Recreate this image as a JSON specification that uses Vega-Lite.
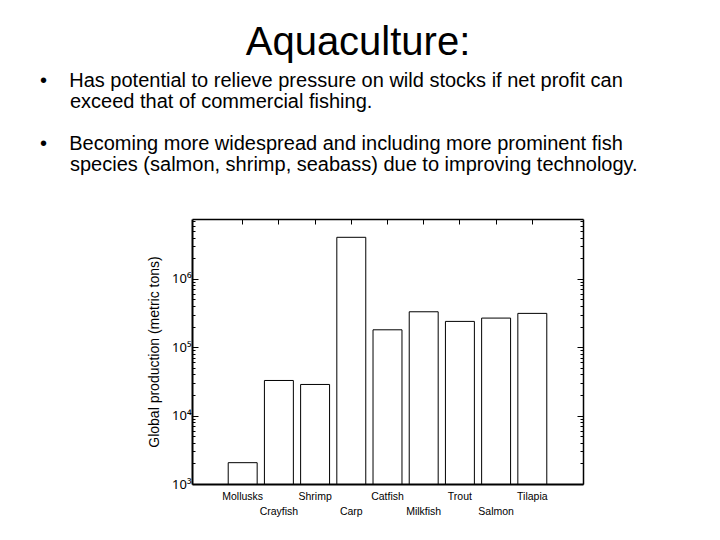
{
  "$schema": "https://vega.github.io/schema/vega-lite/v6.json",
  "background": "white",
  "padding": {"left": 40, "top": 23, "right": 5, "bottom": 5},
  "title": {
    "text": "Aquaculture:",
    "font": "Liberation Sans",
    "fontSize": 40,
    "fontWeight": "normal",
    "color": "black",
    "anchor": "middle",
    "frame": "group",
    "dx": -29.5,
    "offset": 8
  },
  "vconcat": [
    {
      "width": 391,
      "height": 265,
      "title": {
        "text": [
          "•\u00a0\u00a0\u00a0\u00a0Has potential to relieve pressure on wild stocks if net profit can",
          "\u200b\u2002\u2002\u2002exceed that of commercial fishing.",
          "\u200b",
          "•\u00a0\u00a0\u00a0\u00a0Becoming more widespread and including more prominent fish",
          "\u200b\u2002\u2002\u2002species (salmon, shrimp, seabass) due to improving technology."
        ],
        "font": "Liberation Sans",
        "fontSize": 20,
        "fontWeight": "normal",
        "color": "black",
        "lineHeight": 21.1,
        "anchor": "start",
        "frame": "group",
        "align": "left",
        "dx": -152,
        "offset": 39.6
      },
      "data": {
        "values": [
          {"species": "Mollusks", "production": 2050},
          {"species": "Crayfish", "production": 32650},
          {"species": "Shrimp", "production": 28550},
          {"species": "Carp", "production": 4050000},
          {"species": "Catfish", "production": 179800},
          {"species": "Milkfish", "production": 330000},
          {"species": "Trout", "production": 238600},
          {"species": "Salmon", "production": 266800},
          {"species": "Tilapia", "production": 312500}
        ]
      },
      "encoding": {
        "x": {
          "field": "species",
          "type": "nominal",
          "sort": null,
          "scale": {"paddingInner": 0.2, "paddingOuter": 1}
        },
        "y": {
          "field": "production",
          "type": "quantitative",
          "scale": {"type": "log", "domain": [1000, 7500000], "nice": false}
        },
        "y2": {"datum": 1000}
      },
      "layer": [
        {
          "mark": {"type": "bar", "fill": "white", "stroke": "black", "strokeWidth": 1},
          "encoding": {
            "x": {
              "field": "species",
              "type": "nominal",
              "sort": null,
              "axis": {
                "orient": "bottom",
                "title": null,
                "labelAngle": 0,
                "labelFont": "Liberation Sans",
                "labelFontSize": 10.5,
                "labelColor": "black",
                "labelPadding": 12.5,
                "labelLineHeight": 14.5,
                "labelExpr": "indexof(['Crayfish','Carp','Milkfish','Salmon'], datum.value) >= 0 ? ['', datum.label] : datum.label",
                "domainColor": "black",
                "domainWidth": 2,
                "tickColor": "black",
                "tickSize": -5,
                "grid": false
              }
            },
            "y": {
              "field": "production",
              "type": "quantitative",
              "axis": {
                "orient": "left",
                "title": "Global production (metric tons)",
                "titleFont": "Liberation Sans",
                "titleFontSize": 14,
                "titleFontWeight": "normal",
                "titleColor": "black",
                "titlePadding": 10,
                "values": [1000, 2000, 3000, 4000, 5000, 6000, 7000, 8000, 9000, 10000, 20000, 30000, 40000, 50000, 60000, 70000, 80000, 90000, 100000, 200000, 300000, 400000, 500000, 600000, 700000, 800000, 900000, 1000000, 2000000, 3000000, 4000000, 5000000, 6000000, 7000000],
                "labelExpr": "datum.value == 1000 ? '10³' : datum.value == 10000 ? '10⁴' : datum.value == 100000 ? '10⁵' : datum.value == 1000000 ? '10⁶' : ''",
                "labelFont": "Noto Sans",
                "labelFontSize": 13,
                "labelColor": "black",
                "labelPadding": 7,
                "labelOverlap": false,
                "labelFlush": false,
                "domainColor": "black",
                "domainWidth": 2,
                "tickColor": "black",
                "tickSize": {"condition": {"test": "indexof([1000, 10000, 100000, 1000000], datum.value) >= 0", "value": -6}, "value": -3},
                "grid": false
              }
            }
          }
        },
        {
          "mark": {"type": "bar", "opacity": 0},
          "encoding": {
            "x": {
              "field": "species",
              "type": "nominal",
              "sort": null,
              "axis": {
                "orient": "top",
                "title": null,
                "labels": false,
                "domainColor": "black",
                "domainWidth": 1.5,
                "tickColor": "black",
                "tickSize": -5,
                "grid": false
              }
            },
            "y": {
              "field": "production",
              "type": "quantitative",
              "axis": {
                "orient": "right",
                "title": null,
                "labels": false,
                "values": [1000, 2000, 3000, 4000, 5000, 6000, 7000, 8000, 9000, 10000, 20000, 30000, 40000, 50000, 60000, 70000, 80000, 90000, 100000, 200000, 300000, 400000, 500000, 600000, 700000, 800000, 900000, 1000000, 2000000, 3000000, 4000000, 5000000, 6000000, 7000000],
                "domainColor": "black",
                "domainWidth": 1.5,
                "tickColor": "black",
                "tickSize": {"condition": {"test": "indexof([1000, 10000, 100000, 1000000], datum.value) >= 0", "value": -6}, "value": -3},
                "grid": false
              }
            }
          }
        }
      ],
      "resolve": {"axis": {"x": "independent", "y": "independent"}}
    }
  ],
  "config": {
    "view": {"stroke": null}
  }
}
